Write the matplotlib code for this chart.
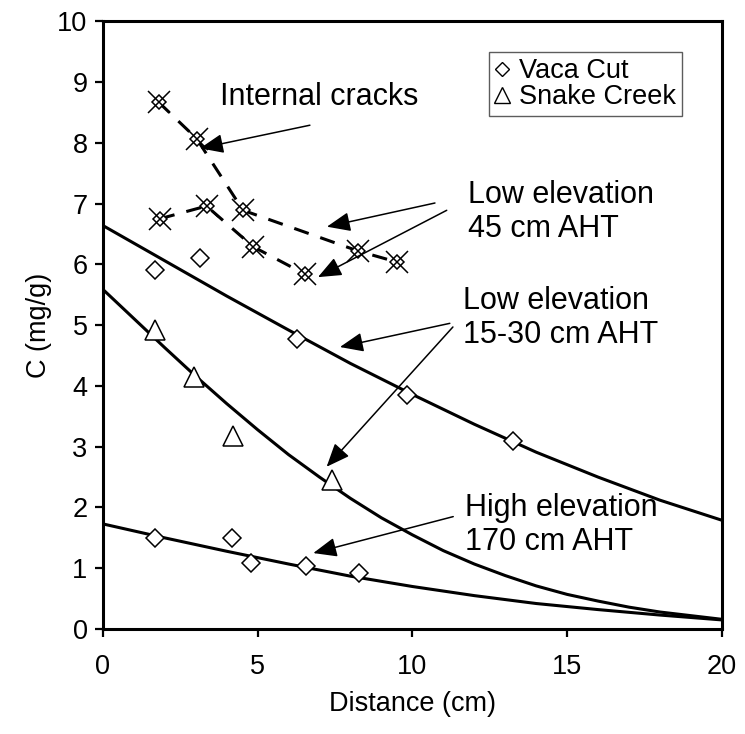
import matplotlib
matplotlib.use("Agg")
import matplotlib.pyplot as plt
from matplotlib.lines import Line2D

# measured points
vaca_x = [1.68, 3.13, 6.26, 9.84, 13.24, 1.68, 4.16, 4.80, 6.55, 8.27]
vaca_y = [5.90, 6.10, 4.78, 3.85, 3.09, 1.49, 1.49, 1.08, 1.04, 0.92]
snake_x = [1.68, 2.95, 4.20, 7.39]
snake_y = [4.92, 4.14, 3.17, 2.45]

# internal cracks (dashed)
cracks_a_x = [1.80, 3.03, 4.53, 8.25, 9.49]
cracks_a_y = [8.67, 8.07, 6.89, 6.22, 6.04]
cracks_b_x = [1.84, 3.35, 4.86, 6.53]
cracks_b_y = [6.75, 6.96, 6.29, 5.84]

# fitted curves
fit_low45_x = [0, 2, 4, 6, 8, 10, 12, 14, 16, 18, 20]
fit_low45_y = [6.64, 6.06, 5.48, 4.92, 4.37, 3.86, 3.37, 2.91, 2.50, 2.12, 1.79]
fit_snake_x = list(range(0, 21))
fit_snake_y = [5.59, 5.11, 4.63, 4.16, 3.71, 3.28, 2.87, 2.50, 2.15, 1.83, 1.55,
               1.29, 1.07, 0.88, 0.71, 0.57, 0.46, 0.36, 0.28, 0.22, 0.16]
fit_high_x = [0, 2, 4, 6, 8, 10, 12, 14, 16, 18, 20]
fit_high_y = [1.73, 1.50, 1.28, 1.07, 0.87, 0.70, 0.55, 0.42, 0.32, 0.23, 0.15]

# annotations: (text, text position, [(tail, head), ...])
labels = [
    ("Internal cracks", (3.78, 8.76), [((6.69, 8.29), (3.14, 7.91))]),
    ("Low elevation\n45 cm AHT", (11.79, 6.86),
     [((10.73, 7.01), (7.24, 6.62)), ((11.11, 6.89), (6.95, 5.79))]),
    ("Low elevation\n15-30 cm AHT", (11.63, 5.12),
     [((11.21, 5.03), (7.66, 4.64)), ((11.31, 4.97), (7.23, 2.67))]),
    ("High elevation\n170 cm AHT", (11.70, 1.71), [((11.32, 1.85), (6.80, 1.25))]),
]

plt.rcParams["font.family"] = ["Liberation Sans", "DejaVu Sans"]

fig = plt.figure(figsize=(7.45, 7.34), dpi=100)
ax = fig.add_axes([0.138, 0.143, 0.831, 0.828])

lw = 2.2
ax.plot(fit_low45_x, fit_low45_y, color="black", linewidth=lw, zorder=2)
ax.plot(fit_snake_x, fit_snake_y, color="black", linewidth=lw, zorder=2)
ax.plot(fit_high_x, fit_high_y, color="black", linewidth=lw, zorder=2)

for cx, cy in [(cracks_a_x, cracks_a_y), (cracks_b_x, cracks_b_y)]:
    ax.plot(cx, cy, color="black", linewidth=lw, linestyle=(0, (5, 4)), zorder=2)
    ax.plot(cx, cy, linestyle="none", marker="D", markersize=7.5, markerfacecolor="white",
            markeredgecolor="black", markeredgewidth=1.1, zorder=4)
    ax.plot(cx, cy, linestyle="none", marker="x", markersize=16,
            markeredgecolor="black", markeredgewidth=1.1, zorder=5)

ax.plot(vaca_x, vaca_y, linestyle="none", marker="D", markersize=9, markerfacecolor="white",
        markeredgecolor="black", markeredgewidth=1.1, zorder=4)
ax.plot(snake_x, snake_y, linestyle="none", marker="^", markersize=14, markerfacecolor="white",
        markeredgecolor="black", markeredgewidth=1.1, zorder=4)

for text, pos, arrows in labels:
    ax.text(pos[0], pos[1], text, fontsize=22, ha="left", va="center", linespacing=1.2, zorder=6)
    for tail, head in arrows:
        ax.annotate("", xy=head, xytext=tail,
                    arrowprops=dict(arrowstyle="-|>,head_length=0.8,head_width=0.33",
                                    color="black", lw=1.1, mutation_scale=18,
                                    shrinkA=0, shrinkB=0), zorder=6)

ax.set_xlim(0, 20)
ax.set_ylim(0, 10)
ax.set_xticks([0, 5, 10, 15, 20])
ax.set_yticks(range(0, 11))
ax.tick_params(direction="out", length=6, width=1.6, labelsize=19.5)
ax.tick_params(axis="x", pad=12)
ax.tick_params(axis="y", pad=5)
for s in ax.spines.values():
    s.set_linewidth(2.2)
ax.set_xlabel("Distance (cm)", fontsize=19.5, labelpad=8)
ax.set_ylabel("C (mg/g)", fontsize=19.5, labelpad=4)

handles = [
    Line2D([], [], linestyle="none", marker="D", markersize=7.5, markerfacecolor="white",
           markeredgecolor="black", markeredgewidth=1.0),
    Line2D([], [], linestyle="none", marker="^", markersize=11, markerfacecolor="white",
           markeredgecolor="black", markeredgewidth=1.0),
]
leg = ax.legend(handles, ["Vaca Cut", "Snake Creek"], loc="upper right",
                bbox_to_anchor=(0.935, 0.949), fontsize=19.5, handlelength=0.52,
                handletextpad=0.37, borderpad=0.22, labelspacing=0.0, borderaxespad=0,
                frameon=True, fancybox=False, edgecolor="#333333")
leg.get_frame().set_linewidth(1.0)

fig.savefig("out.png", dpi=100)
